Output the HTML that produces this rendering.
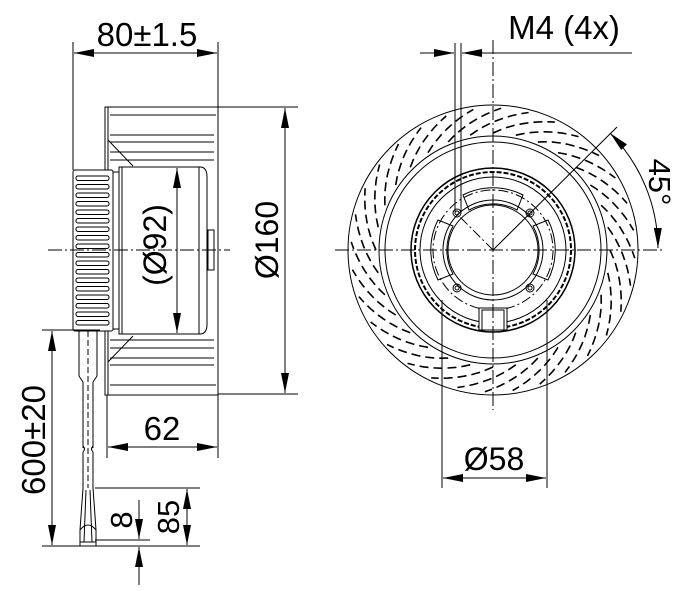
<!DOCTYPE html>
<html><head><meta charset="utf-8"><style>
html,body{margin:0;padding:0;background:#fff;}
svg{display:block;}
text{font-family:"Liberation Sans",sans-serif;fill:#000;}
</style></head><body>
<svg id="s" width="690" height="591" viewBox="0 0 690 591" xmlns="http://www.w3.org/2000/svg" fill="none" stroke="#000" stroke-width="1">
<defs>
<marker id="a" viewBox="0 0 10 4" refX="10" refY="2" markerWidth="20" markerHeight="8" markerUnits="userSpaceOnUse" orient="auto-start-reverse"><path d="M0,0L10,2L0,4z" fill="#000" stroke="none"/></marker>
</defs>
<g id="L">
<line x1="73" y1="42" x2="73" y2="170"/><line x1="218" y1="42" x2="218" y2="107"/>
<line x1="74" y1="53" x2="217" y2="53" marker-start="url(#a)" marker-end="url(#a)"/>
<text x="147" y="46" font-size="33" text-anchor="middle" stroke="none">80±1.5</text>
<rect x="105" y="107" width="113" height="288"/>
<line x1="108" y1="107" x2="108" y2="395"/>
<line x1="110" y1="115" x2="216" y2="115"/><line x1="110" y1="135" x2="214" y2="135"/>
<line x1="110" y1="142" x2="214" y2="142"/><line x1="110" y1="152" x2="214" y2="152"/>
<line x1="110" y1="160" x2="214" y2="160"/>
<line x1="110" y1="340" x2="214" y2="340"/><line x1="110" y1="348" x2="214" y2="348"/>
<line x1="110" y1="358" x2="214" y2="358"/><line x1="110" y1="365" x2="214" y2="365"/>
<line x1="110" y1="385" x2="216" y2="385"/>
<line x1="108" y1="140" x2="133" y2="166"/><line x1="108" y1="362" x2="133" y2="336"/>
<path d="M119,167H200Q207,167 207,177V324Q207,334 200,334H119Z" fill="#fff"/>
<line x1="122" y1="167" x2="122" y2="334"/><line x1="199" y1="167" x2="199" y2="334"/>
<rect x="208" y="230" width="6" height="40"/>
<rect x="73" y="170" width="40" height="161" rx="2" fill="#fff"/>
<line x1="113" y1="172" x2="119" y2="172"/><line x1="113" y1="329" x2="119" y2="329"/>
<g id="ribs"></g>
<line x1="177" y1="168" x2="177" y2="333" marker-start="url(#a)" marker-end="url(#a)"/>
<text transform="translate(166,245) rotate(-90)" font-size="32" text-anchor="middle" stroke="none">(Ø92)</text>
<line x1="218" y1="107" x2="298" y2="107"/><line x1="218" y1="394" x2="298" y2="394"/>
<line x1="285" y1="108" x2="285" y2="393" marker-start="url(#a)" marker-end="url(#a)"/>
<text transform="translate(278,240) rotate(-90)" font-size="32" text-anchor="middle" stroke="none">Ø160</text>
<line x1="48" y1="250" x2="230" y2="250" stroke-dasharray="14,3,2,3"/>
<line x1="107" y1="395" x2="107" y2="458"/><line x1="218" y1="395" x2="218" y2="458"/>
<line x1="108" y1="447" x2="217" y2="447" marker-start="url(#a)" marker-end="url(#a)"/>
<text x="162" y="440" font-size="33" text-anchor="middle" stroke="none">62</text>
<path d="M79,331V376L83,382V448M97,331V376L93,382V448"/>
<path d="M83,452V488M93,452V488"/>
<path d="M83,446q3,3 0,6M93,446q-3,3 0,6"/>
<line x1="88" y1="331" x2="88" y2="488" stroke-dasharray="6,3"/>
<path d="M83,488L80,530V542M93,488L96,530V542M86,490L84,542M90,490L92,542M80,530Q88,520 96,530"/>
<rect x="80" y="542" width="16" height="4"/>
<line x1="42" y1="330" x2="100" y2="330"/><line x1="42" y1="546" x2="200" y2="546"/>
<line x1="52" y1="331" x2="52" y2="545" marker-start="url(#a)" marker-end="url(#a)"/>
<text transform="translate(45,440) rotate(-90)" font-size="33" text-anchor="middle" stroke="none">600±20</text>
<line x1="95" y1="488" x2="200" y2="488"/>
<line x1="187" y1="489" x2="187" y2="545" marker-start="url(#a)" marker-end="url(#a)"/>
<text transform="translate(179,517) rotate(-90)" font-size="31" text-anchor="middle" stroke="none">85</text>
<line x1="95" y1="540" x2="150" y2="540"/>
<line x1="139" y1="500" x2="139" y2="539" marker-end="url(#a)"/>
<line x1="139" y1="585" x2="139" y2="547" marker-end="url(#a)"/>
<text transform="translate(132,520) rotate(-90)" font-size="31" text-anchor="middle" stroke="none">8</text>
</g>
<g>
<circle cx="493" cy="250" r="145"/>
<circle cx="493" cy="250" r="114"/><circle cx="493" cy="250" r="108"/>
<g id="blades" stroke-dasharray="9,5" stroke-width="1.6"></g>
<circle cx="493" cy="250" r="82" stroke-width="1.5"/>
<circle cx="493" cy="250" r="78" stroke-dasharray="5,2" stroke-width="2"/>
<circle cx="493" cy="250" r="73"/>
<circle cx="493" cy="250" r="50"/><circle cx="493" cy="250" r="45"/>
<circle cx="493" cy="250" r="60" stroke-dasharray="10,3,2,3"/>
<path d="M463,195A66,66 0 0 1 523,195L517,210A50,50 0 0 0 469,210Z"/>
<path d="M463,195A66,66 0 0 1 523,195L517,210A50,50 0 0 0 469,210Z" transform="rotate(90 493 250)"/>
<path d="M463,195A66,66 0 0 1 523,195L517,210A50,50 0 0 0 469,210Z" transform="rotate(-90 493 250)"/>
<rect x="479" y="308" width="28" height="22" fill="#fff"/><rect x="482" y="310" width="22" height="20"/>
<g id="holes"></g>
<line x1="335" y1="250" x2="665" y2="250" stroke-dasharray="14,3,2,3"/>
<line x1="493" y1="40" x2="493" y2="410" stroke-dasharray="14,3,2,3"/>
<line x1="493" y1="250" x2="457" y2="214" stroke-dasharray="10,3,2,3"/>
<line x1="493" y1="250" x2="617" y2="127"/>
<line x1="442" y1="300" x2="442" y2="488"/><line x1="547" y1="300" x2="547" y2="488"/>
<line x1="443" y1="478" x2="546" y2="478" marker-start="url(#a)" marker-end="url(#a)"/>
<text x="494" y="470" font-size="32" text-anchor="middle" stroke="none">Ø58</text>
<line x1="455" y1="43" x2="455" y2="212"/><line x1="461" y1="43" x2="461" y2="212"/>
<line x1="420" y1="53" x2="454" y2="53" marker-end="url(#a)"/>
<line x1="632" y1="53" x2="462" y2="53" marker-end="url(#a)"/>
<text x="564" y="39" font-size="33" text-anchor="middle" stroke="none">M4 (4x)</text>
<path d="M610,133A165,165 0 0 1 658,248" marker-start="url(#a)" marker-end="url(#a)"/>
<text transform="translate(649,182) rotate(90)" font-size="31" text-anchor="middle" stroke="none">45°</text>
</g>
</svg>
<script>
var ns="http://www.w3.org/2000/svg";
function el(p,t,a){var e=document.createElementNS(ns,t);for(var k in a)e.setAttribute(k,a[k]);p.appendChild(e);return e;}
var r=document.getElementById('ribs');
for(var y=176;y<326;y+=8.5){el(r,'rect',{x:76,y:y,width:33,height:4.5,rx:2});}
var b=document.getElementById('blades'),cx=493,cy=250;
for(var i=0;i<32;i++){var a0=i*11.25*Math.PI/180;var d='';
for(var j=0;j<=8;j++){var t=j/8;var rr=117+t*25;var a=a0+t*0.45;var x=cx+rr*Math.cos(a),y=cy+rr*Math.sin(a);d+=(j?'L':'M')+x.toFixed(1)+','+y.toFixed(1);}
el(b,'path',{d:d});}
var h=document.getElementById('holes');
[[457,213],[530,213],[457,288],[530,288]].forEach(function(p){el(h,'circle',{cx:p[0],cy:p[1],r:4});el(h,'circle',{cx:p[0],cy:p[1],r:2});});
</script>
</body></html>
